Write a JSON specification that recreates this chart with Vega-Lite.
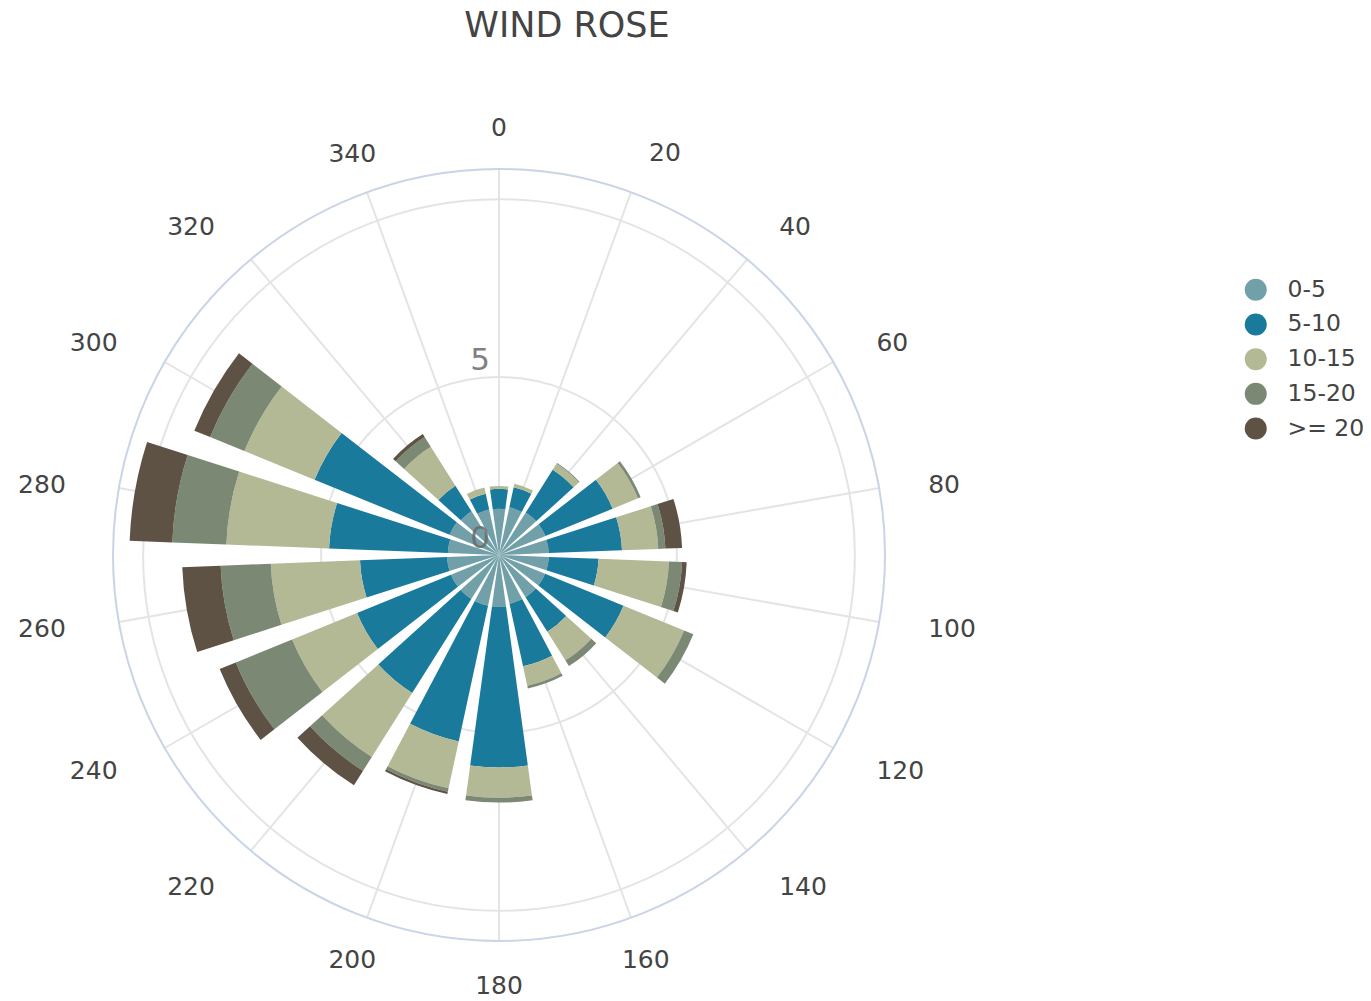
{
  "$schema": "https://vega.github.io/schema/vega-lite/v6.json",
  "width": 800,
  "height": 800,
  "autosize": "none",
  "padding": {"left": 99, "top": 155, "right": 472, "bottom": 46},
  "background": "white",
  "config": {"view": {"stroke": null}, "font": "DejaVu Sans"},
  "title": {"text": "WIND ROSE", "fontSize": 35, "font": "DejaVu Sans", "fontWeight": "normal", "color": "#444444", "anchor": "middle", "dx": 68, "offset": 72},
  "datasets": {
    "wind": [
      {"direction": 0, "strength": "0-5", "rank": 0, "freq": 1.3},
      {"direction": 0, "strength": "5-10", "rank": 1, "freq": 0.56},
      {"direction": 0, "strength": "10-15", "rank": 2, "freq": 0.08},
      {"direction": 20, "strength": "0-5", "rank": 0, "freq": 1.37},
      {"direction": 20, "strength": "5-10", "rank": 1, "freq": 0.58},
      {"direction": 20, "strength": "10-15", "rank": 2, "freq": 0.1},
      {"direction": 40, "strength": "0-5", "rank": 0, "freq": 1.41},
      {"direction": 40, "strength": "5-10", "rank": 1, "freq": 1.42},
      {"direction": 40, "strength": "10-15", "rank": 2, "freq": 0.2},
      {"direction": 40, "strength": "15-20", "rank": 3, "freq": 0.03},
      {"direction": 60, "strength": "0-5", "rank": 0, "freq": 1.41},
      {"direction": 60, "strength": "5-10", "rank": 1, "freq": 2.04},
      {"direction": 60, "strength": "10-15", "rank": 2, "freq": 0.77},
      {"direction": 60, "strength": "15-20", "rank": 3, "freq": 0.08},
      {"direction": 80, "strength": "0-5", "rank": 0, "freq": 1.4},
      {"direction": 80, "strength": "5-10", "rank": 1, "freq": 2.06},
      {"direction": 80, "strength": "10-15", "rank": 2, "freq": 1.02},
      {"direction": 80, "strength": "15-20", "rank": 3, "freq": 0.2},
      {"direction": 80, "strength": ">= 20", "rank": 4, "freq": 0.47},
      {"direction": 100, "strength": "0-5", "rank": 0, "freq": 1.4},
      {"direction": 100, "strength": "5-10", "rank": 1, "freq": 1.4},
      {"direction": 100, "strength": "10-15", "rank": 2, "freq": 1.98},
      {"direction": 100, "strength": "15-20", "rank": 3, "freq": 0.37},
      {"direction": 100, "strength": ">= 20", "rank": 4, "freq": 0.13},
      {"direction": 120, "strength": "0-5", "rank": 0, "freq": 1.4},
      {"direction": 120, "strength": "5-10", "rank": 1, "freq": 2.38},
      {"direction": 120, "strength": "10-15", "rank": 2, "freq": 1.84},
      {"direction": 120, "strength": "15-20", "rank": 3, "freq": 0.28},
      {"direction": 140, "strength": "0-5", "rank": 0, "freq": 1.4},
      {"direction": 140, "strength": "5-10", "rank": 1, "freq": 1.15},
      {"direction": 140, "strength": "10-15", "rank": 2, "freq": 0.95},
      {"direction": 140, "strength": "15-20", "rank": 3, "freq": 0.19},
      {"direction": 160, "strength": "0-5", "rank": 0, "freq": 1.4},
      {"direction": 160, "strength": "5-10", "rank": 1, "freq": 1.8},
      {"direction": 160, "strength": "10-15", "rank": 2, "freq": 0.56},
      {"direction": 160, "strength": "15-20", "rank": 3, "freq": 0.08},
      {"direction": 180, "strength": "0-5", "rank": 0, "freq": 1.46},
      {"direction": 180, "strength": "5-10", "rank": 1, "freq": 4.51},
      {"direction": 180, "strength": "10-15", "rank": 2, "freq": 0.85},
      {"direction": 180, "strength": "15-20", "rank": 3, "freq": 0.14},
      {"direction": 200, "strength": "0-5", "rank": 0, "freq": 1.46},
      {"direction": 200, "strength": "5-10", "rank": 1, "freq": 3.9},
      {"direction": 200, "strength": "10-15", "rank": 2, "freq": 1.35},
      {"direction": 200, "strength": "15-20", "rank": 3, "freq": 0.1},
      {"direction": 200, "strength": ">= 20", "rank": 4, "freq": 0.06},
      {"direction": 220, "strength": "0-5", "rank": 0, "freq": 1.46},
      {"direction": 220, "strength": "5-10", "rank": 1, "freq": 3.12},
      {"direction": 220, "strength": "10-15", "rank": 2, "freq": 2.13},
      {"direction": 220, "strength": "15-20", "rank": 3, "freq": 0.46},
      {"direction": 220, "strength": ">= 20", "rank": 4, "freq": 0.48},
      {"direction": 240, "strength": "0-5", "rank": 0, "freq": 1.46},
      {"direction": 240, "strength": "5-10", "rank": 1, "freq": 2.85},
      {"direction": 240, "strength": "10-15", "rank": 2, "freq": 1.97},
      {"direction": 240, "strength": "15-20", "rank": 3, "freq": 1.71},
      {"direction": 240, "strength": ">= 20", "rank": 4, "freq": 0.49},
      {"direction": 260, "strength": "0-5", "rank": 0, "freq": 1.46},
      {"direction": 260, "strength": "5-10", "rank": 1, "freq": 2.45},
      {"direction": 260, "strength": "10-15", "rank": 2, "freq": 2.51},
      {"direction": 260, "strength": "15-20", "rank": 3, "freq": 1.41},
      {"direction": 260, "strength": ">= 20", "rank": 4, "freq": 1.08},
      {"direction": 280, "strength": "0-5", "rank": 0, "freq": 1.44},
      {"direction": 280, "strength": "5-10", "rank": 1, "freq": 3.34},
      {"direction": 280, "strength": "10-15", "rank": 2, "freq": 2.89},
      {"direction": 280, "strength": "15-20", "rank": 3, "freq": 1.52},
      {"direction": 280, "strength": ">= 20", "rank": 4, "freq": 1.2},
      {"direction": 300, "strength": "0-5", "rank": 0, "freq": 1.5},
      {"direction": 300, "strength": "5-10", "rank": 1, "freq": 4.1},
      {"direction": 300, "strength": "10-15", "rank": 2, "freq": 2.13},
      {"direction": 300, "strength": "15-20", "rank": 3, "freq": 1.04},
      {"direction": 300, "strength": ">= 20", "rank": 4, "freq": 0.48},
      {"direction": 320, "strength": "0-5", "rank": 0, "freq": 1.45},
      {"direction": 320, "strength": "5-10", "rank": 1, "freq": 0.85},
      {"direction": 320, "strength": "10-15", "rank": 2, "freq": 1.3},
      {"direction": 320, "strength": "15-20", "rank": 3, "freq": 0.32},
      {"direction": 320, "strength": ">= 20", "rank": 4, "freq": 0.1},
      {"direction": 340, "strength": "0-5", "rank": 0, "freq": 1.31},
      {"direction": 340, "strength": "5-10", "rank": 1, "freq": 0.45},
      {"direction": 340, "strength": "10-15", "rank": 2, "freq": 0.18}
    ],
    "angles": [
      {"angle": 0}, {"angle": 20}, {"angle": 40}, {"angle": 60}, {"angle": 80}, {"angle": 100},
      {"angle": 120}, {"angle": 140}, {"angle": 160}, {"angle": 180}, {"angle": 200}, {"angle": 220},
      {"angle": 240}, {"angle": 260}, {"angle": 280}, {"angle": 300}, {"angle": 320}, {"angle": 340}
    ],
    "rings": [{"r": 5}, {"r": 10}],
    "rticks": [{"v": 0}, {"v": 5}]
  },
  "resolve": {"scale": {"theta": "independent"}},
  "layer": [
    {
      "data": {"name": "rings"},
      "mark": {"type": "arc", "fill": null, "stroke": "#e4e4e4", "strokeWidth": 2},
      "encoding": {
        "theta": {"datum": 0, "type": "quantitative", "stack": null, "scale": {"domain": [0, 360], "nice": false}},
        "theta2": {"datum": 360},
        "radius": {"field": "r", "type": "quantitative", "stack": null, "scale": {"type": "linear", "domain": [0, 10.85], "range": [0, 386], "zero": true, "nice": false}}
      }
    },
    {
      "data": {"name": "angles"},
      "mark": {"type": "arc", "fill": null, "stroke": "#e4e4e4", "strokeWidth": 2},
      "encoding": {
        "theta": {"field": "angle", "type": "quantitative", "stack": null, "scale": {"domain": [0, 360], "nice": false}},
        "theta2": {"field": "angle"},
        "radius": {"datum": 10.85, "type": "quantitative", "stack": null, "scale": {"type": "linear", "domain": [0, 10.85], "range": [0, 386], "zero": true, "nice": false}}
      }
    },
    {
      "data": {"values": [{}]},
      "mark": {"type": "arc", "fill": null, "stroke": "#c9d4e6", "strokeWidth": 2},
      "encoding": {
        "theta": {"datum": 0, "type": "quantitative", "stack": null, "scale": {"domain": [0, 360], "nice": false}},
        "theta2": {"datum": 360},
        "radius": {"datum": 10.85, "type": "quantitative", "stack": null, "scale": {"type": "linear", "domain": [0, 10.85], "range": [0, 386], "zero": true, "nice": false}}
      }
    },
    {
      "data": {"name": "wind"},
      "mark": {"type": "arc", "opacity": 1},
      "encoding": {
        "theta": {
          "field": "direction", "type": "ordinal",
          "scale": {"domain": [0, 20, 40, 60, 80, 100, 120, 140, 160, 180, 200, 220, 240, 260, 280, 300, 320, 340], "range": [-0.174533, 6.108652], "paddingInner": 0.22, "paddingOuter": 0.11}
        },
        "radius": {"field": "freq", "type": "quantitative", "stack": "zero", "scale": {"type": "linear", "domain": [0, 10.85], "range": [0, 386], "zero": true, "nice": false}},
        "color": {
          "field": "strength", "type": "nominal",
          "scale": {"domain": ["0-5", "5-10", "10-15", "15-20", ">= 20"], "range": ["#72a0a9", "#1a7a9b", "#b3b994", "#7b8874", "#5e5245"]},
          "legend": {"title": null, "orient": "none", "legendX": 1145, "legendY": 123, "symbolType": "circle", "symbolSize": 484, "symbolStrokeWidth": 0, "symbolOpacity": 1, "labelFontSize": 23.5, "labelFont": "DejaVu Sans", "labelColor": "#444444", "labelOffset": 20, "rowPadding": 9.7, "padding": 0}
        },
        "order": {"field": "rank", "type": "quantitative", "sort": "ascending"}
      }
    },
    {
      "data": {"name": "rticks"},
      "mark": {"type": "text", "fontSize": 31, "color": "#6b6b6b", "dx": -19, "dy": -16, "align": "center", "baseline": "middle", "opacity": 0.85},
      "encoding": {
        "theta": {"datum": 0, "type": "quantitative", "stack": null, "scale": {"domain": [0, 360], "nice": false}},
        "radius": {"field": "v", "type": "quantitative", "stack": null, "scale": {"type": "linear", "domain": [0, 10.85], "range": [0, 386], "zero": true, "nice": false}},
        "text": {"field": "v", "type": "quantitative"}
      }
    },
    {
      "data": {"name": "angles"},
      "transform": [{"filter": {"field": "angle", "oneOf": [0, 160, 180, 200, 340]}}],
      "mark": {"type": "text", "fontSize": 25, "color": "#444444", "align": "center", "baseline": "middle", "dy": 2},
      "encoding": {
        "theta": {"field": "angle", "type": "quantitative", "stack": null, "scale": {"domain": [0, 360], "nice": false}},
        "radius": {"datum": 12.06, "type": "quantitative", "stack": null, "scale": {"type": "linear", "domain": [0, 10.85], "range": [0, 386], "zero": true, "nice": false}},
        "text": {"field": "angle", "type": "quantitative"}
      }
    },
    {
      "data": {"name": "angles"},
      "transform": [{"filter": {"field": "angle", "oneOf": [20]}}],
      "mark": {"type": "text", "fontSize": 25, "color": "#444444", "align": "left", "baseline": "middle", "dx": 3, "dy": 2},
      "encoding": {
        "theta": {"field": "angle", "type": "quantitative", "stack": null, "scale": {"domain": [0, 360], "nice": false}},
        "radius": {"datum": 12.09, "type": "quantitative", "stack": null, "scale": {"type": "linear", "domain": [0, 10.85], "range": [0, 386], "zero": true, "nice": false}},
        "text": {"field": "angle", "type": "quantitative"}
      }
    },
    {
      "data": {"name": "angles"},
      "transform": [{"filter": {"field": "angle", "oneOf": [40, 60, 80]}}],
      "mark": {"type": "text", "fontSize": 25, "color": "#444444", "align": "left", "baseline": "middle", "dy": 5.5},
      "encoding": {
        "theta": {"field": "angle", "type": "quantitative", "stack": null, "scale": {"domain": [0, 360], "nice": false}},
        "radius": {"datum": 12.25, "type": "quantitative", "stack": null, "scale": {"type": "linear", "domain": [0, 10.85], "range": [0, 386], "zero": true, "nice": false}},
        "text": {"field": "angle", "type": "quantitative"}
      }
    },
    {
      "data": {"name": "angles"},
      "transform": [{"filter": {"field": "angle", "oneOf": [100, 120, 140]}}],
      "mark": {"type": "text", "fontSize": 25, "color": "#444444", "align": "left", "baseline": "middle", "dy": -2},
      "encoding": {
        "theta": {"field": "angle", "type": "quantitative", "stack": null, "scale": {"domain": [0, 360], "nice": false}},
        "radius": {"datum": 12.25, "type": "quantitative", "stack": null, "scale": {"type": "linear", "domain": [0, 10.85], "range": [0, 386], "zero": true, "nice": false}},
        "text": {"field": "angle", "type": "quantitative"}
      }
    },
    {
      "data": {"name": "angles"},
      "transform": [{"filter": {"field": "angle", "oneOf": [280, 300, 320]}}],
      "mark": {"type": "text", "fontSize": 25, "color": "#444444", "align": "right", "baseline": "middle", "dx": -4, "dy": 5.5},
      "encoding": {
        "theta": {"field": "angle", "type": "quantitative", "stack": null, "scale": {"domain": [0, 360], "nice": false}},
        "radius": {"datum": 12.25, "type": "quantitative", "stack": null, "scale": {"type": "linear", "domain": [0, 10.85], "range": [0, 386], "zero": true, "nice": false}},
        "text": {"field": "angle", "type": "quantitative"}
      }
    },
    {
      "data": {"name": "angles"},
      "transform": [{"filter": {"field": "angle", "oneOf": [220, 240, 260]}}],
      "mark": {"type": "text", "fontSize": 25, "color": "#444444", "align": "right", "baseline": "middle", "dx": -4, "dy": -2},
      "encoding": {
        "theta": {"field": "angle", "type": "quantitative", "stack": null, "scale": {"domain": [0, 360], "nice": false}},
        "radius": {"datum": 12.25, "type": "quantitative", "stack": null, "scale": {"type": "linear", "domain": [0, 10.85], "range": [0, 386], "zero": true, "nice": false}},
        "text": {"field": "angle", "type": "quantitative"}
      }
    }
  ]
}
